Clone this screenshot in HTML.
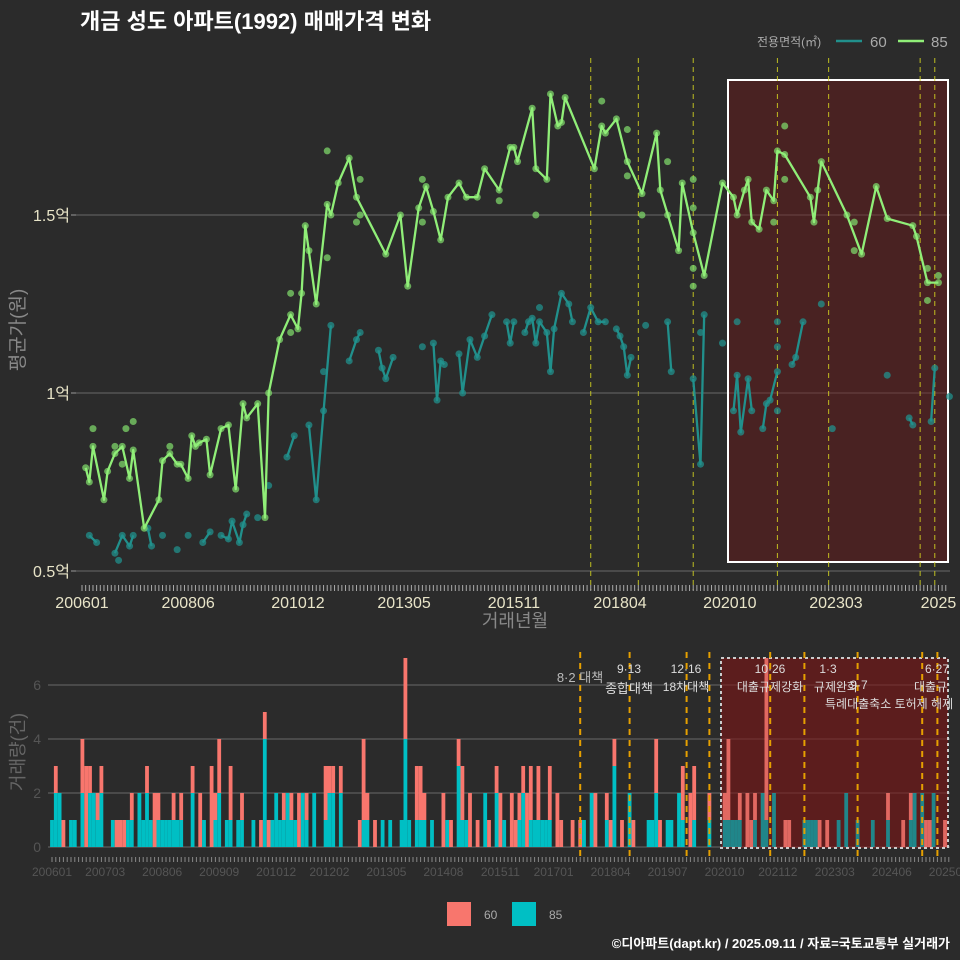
<!DOCTYPE html>
<html><head><meta charset="utf-8">
<style>
html,body{margin:0;padding:0;background:#2b2b2b;}
svg{display:block;font-family:"Liberation Sans","Noto Sans CJK KR",sans-serif;}
</style></head>
<body>
<svg id="chart" width="960" height="960" viewBox="0 0 960 960" xmlns="http://www.w3.org/2000/svg">
<rect x="0" y="0" width="960" height="960" fill="#2b2b2b"/>
<text x="80" y="29" font-size="22" font-weight="bold" fill="#ffffff">개금 성도 아파트(1992) 매매가격 변화</text>
<g>
<text x="757" y="46" font-size="12" fill="#aaaaaa">전용면적(㎡)</text>
<line x1="836" y1="41" x2="862" y2="41" stroke="#21908c" stroke-width="2.5"/>
<text x="870" y="47" font-size="15" fill="#aaaaaa">60</text>
<line x1="898" y1="41" x2="924" y2="41" stroke="#90ee78" stroke-width="2.5"/>
<text x="931" y="47" font-size="15" fill="#aaaaaa">85</text>
</g>
<text transform="translate(24,330) rotate(-90)" text-anchor="middle" font-size="19" fill="#888888">평균가(원)</text>
<text x="515" y="627" text-anchor="middle" font-size="18" fill="#888888">거래년월</text>
<text transform="translate(24,752) rotate(-90)" text-anchor="middle" font-size="18" fill="#666666">거래량(건)</text>
<g id="topPanel"></g>
<g id="botPanel"></g>
<g>
<text x="580" y="682" text-anchor="middle" font-size="13" fill="#bbbbbb">8·2 대책</text>
<text x="629" y="673" text-anchor="middle" font-size="12" fill="#dddddd">9·13</text>
<text x="629" y="693" text-anchor="middle" font-size="13" fill="#dddddd">종합대책</text>
<text x="686" y="673" text-anchor="middle" font-size="12" fill="#dddddd">12·16</text>
<text x="686" y="691" text-anchor="middle" font-size="12" fill="#dddddd">18차대책</text>
<text x="770" y="673" text-anchor="middle" font-size="12" fill="#dddddd">10·26</text>
<text x="770" y="691" text-anchor="middle" font-size="12" fill="#dddddd">대출규제강화</text>
<text x="828" y="673" text-anchor="middle" font-size="12" fill="#dddddd">1·3</text>
<text x="836" y="691" text-anchor="middle" font-size="12" fill="#dddddd">규제완화</text>
<text x="859" y="689" text-anchor="middle" font-size="12" fill="#dddddd">9·7</text>
<text x="825" y="708" font-size="12" fill="#dddddd">특례대출축소 토허제 해제</text>
<text x="937" y="673" text-anchor="middle" font-size="12" fill="#dddddd">6·27</text>
<text x="914" y="691" font-size="12" fill="#dddddd">대출규</text>
</g>
<g>
<rect x="447" y="902" width="24" height="24" fill="#f8766d"/>
<text x="484" y="919" font-size="12" fill="#aaaaaa">60</text>
<rect x="512" y="902" width="24" height="24" fill="#00bfc4"/>
<text x="549" y="919" font-size="12" fill="#aaaaaa">85</text>
</g>
<text x="950" y="948" text-anchor="end" font-size="13" font-weight="bold" fill="#ffffff">©디아파트(dapt.kr) / 2025.09.11 / 자료=국토교통부 실거래가</text>
</svg>
<script>
// ---- price chart data (month index from 2006-01, price in 억) ----
const months85 = [1,2,3,6,7,9,11,13,14,17,21,22,24,26,27,29,30,31,32,34,35,38,40,42,44,45,48,50,51,54,57,59,60,61,64,67,68,70,73,75,83,87,89,92,94,96,98,100,103,105,108,110,114,117,118,119,123,124,127,128,130,131,132,140,142,143,146,149,153,157,158,163,164,167,170,175,178,179,181,182,183,185,187,189,190,192,199,200,201,202,209,213,217,220,227,228,231,234];
const price85 = [0.79,0.75,0.85,0.70,0.78,0.83,0.85,0.76,0.84,0.62,0.70,0.81,0.83,0.80,0.80,0.76,0.88,0.85,0.86,0.87,0.77,0.90,0.91,0.73,0.97,0.93,0.97,0.65,1.00,1.15,1.22,1.18,1.28,1.47,1.25,1.53,1.50,1.59,1.66,1.55,1.39,1.50,1.30,1.52,1.58,1.51,1.43,1.55,1.59,1.55,1.55,1.63,1.57,1.69,1.69,1.65,1.80,1.63,1.60,1.84,1.75,1.76,1.83,1.63,1.75,1.73,1.77,1.65,1.56,1.73,1.57,1.40,1.59,1.45,1.33,1.59,1.55,1.50,1.57,1.60,1.48,1.46,1.57,1.54,1.68,1.67,1.55,1.48,1.57,1.65,1.50,1.39,1.58,1.49,1.47,1.44,1.31,1.31];
const extraMonths85 = [3,12,14,9,11,24,57,57,67,67,76,75,76,93,93,114,62,142,124,149,149,153,160,160,167,167,167,167,192,192,189,211,211,231,231,234];
const extraPrice85 = [0.90,0.90,0.92,0.85,0.80,0.85,1.28,1.17,1.68,1.38,1.60,1.48,1.50,1.60,1.48,1.54,1.40,1.82,1.50,1.74,1.61,1.50,1.65,1.50,1.60,1.52,1.35,1.30,1.75,1.60,1.48,1.40,1.48,1.26,1.35,1.33];
const months60 = [2,4,9,11,13,14,18,19,22,26,29,33,35,38,40,41,43,44,45,48,51,56,58,62,64,66,68,73,75,76,81,82,83,85,93,96,97,98,99,103,104,106,108,110,112,116,117,118,121,122,123,124,125,127,128,129,131,133,134,137,139,141,143,146,147,148,149,150,154,160,161,167,169,170,175,178,179,180,182,183,186,187,188,190,194,195,197,202,205,220,226,227,232,233,237];
const price60 = [0.60,0.58,0.55,0.60,0.57,0.60,0.62,0.57,0.60,0.56,0.60,0.58,0.61,0.60,0.59,0.64,0.58,0.63,0.66,0.65,0.74,0.82,0.88,0.91,0.70,0.95,1.19,1.09,1.15,1.17,1.12,1.07,1.04,1.10,1.13,1.14,0.98,1.09,1.08,1.11,1.00,1.15,1.10,1.16,1.22,1.20,1.14,1.20,1.17,1.20,1.21,1.14,1.20,1.17,1.06,1.18,1.28,1.25,1.20,1.17,1.24,1.20,1.20,1.18,1.16,1.13,1.05,1.10,1.19,1.20,1.06,1.04,0.80,1.22,1.14,0.95,1.05,0.89,1.04,0.95,0.90,0.97,0.98,1.06,1.08,1.10,1.20,1.25,0.90,1.05,0.93,0.91,0.92,1.07,0.99];
const extraMonths60 = [10,190,190,190,179,125,169,66];
const extraPrice60 = [0.53,0.95,1.13,1.20,1.20,1.24,1.17,1.06];
const priceTicks = [0.5,1,1.5];
const priceTickLabels = ["0.5억","1억","1.5억"];
const xTickMonthsTop = [0,29,59,88,118,147,177,206,234];
const xTickLabelsTop = ["200601","200806","201012","201305","201511","201804","202010","202303","2025"];
const policyMonthsTop = [139,152,167,190,204,229,233];
// ---- volume chart data ----
const volMonths = [0,1,2,3,5,6,8,9,10,11,12,13,16,17,18,19,20,21,23,24,25,26,27,28,29,30,31,32,33,34,37,39,40,42,43,44,46,47,49,50,53,55,56,57,58,59,60,61,62,63,64,65,66,67,69,72,73,74,76,81,82,83,85,87,89,92,93,94,96,97,98,100,103,104,105,107,108,109,110,112,114,115,117,118,119,121,122,123,124,125,126,127,128,129,130,131,133,134,137,139,140,142,143,146,147,148,150,152,153,157,158,159,160,162,163,165,166,168,169,173,177,178,179,180,181,183,184,185,187,188,190,193,194,198,199,200,201,202,204,207,209,212,216,220,224,226,227,229,230,231,232,235];
const vol85 = [1,2,2,0,1,1,2,0,2,2,1,2,1,0,0,0,1,1,2,1,2,1,0,1,1,1,1,1,1,1,2,0,1,0,1,2,1,1,1,1,1,0,4,0,1,2,1,1,2,1,1,0,2,1,2,1,2,2,2,0,1,1,0,1,1,1,4,1,1,1,1,1,0,1,0,3,1,1,0,0,2,0,2,0,1,0,0,1,2,0,1,1,1,1,1,1,0,0,0,0,1,2,0,1,0,3,0,2,0,1,1,2,0,1,1,2,1,0,1,1,1,1,1,1,1,0,0,1,2,1,2,0,0,1,1,1,1,0,0,1,2,1,1,1,0,1,2,2,0,0,2,0];
const vol60 = [0,1,0,1,0,0,2,3,1,0,1,1,0,1,1,1,0,1,0,0,1,0,2,1,0,0,0,1,0,1,1,2,0,3,1,2,0,2,0,1,0,1,1,1,0,0,0,1,0,1,0,2,0,1,0,2,1,1,1,1,3,1,1,0,0,0,3,0,2,2,1,0,2,0,1,1,2,0,2,1,0,1,1,2,0,2,1,1,1,2,2,0,2,0,0,2,2,1,1,1,0,0,2,1,1,1,1,0,1,0,0,2,1,0,0,0,2,2,2,1,1,3,0,0,1,2,1,1,0,6,0,1,1,0,0,0,0,1,1,0,0,0,0,1,1,1,0,0,1,1,0,1];
const volTicks = [0,2,4,6];
const xTickMonthsBot = [0,14,29,44,59,73,88,103,118,132,147,162,177,191,206,221,236];
const xTickLabelsBot = ["200601","200703","200806","200909","201012","201202","201305","201408","201511","201701","201804","201907","202010","202112","202303","202406","202509"];
const policyMonthsBot = [139,152,167,173,189,198,212,229,233];

const NS = "http://www.w3.org/2000/svg";
function mk(parent, tag, attrs, text){
  const e = document.createElementNS(NS, tag);
  for (const k in attrs) e.setAttribute(k, attrs[k]);
  if (text !== undefined) e.textContent = text;
  parent.appendChild(e);
  return e;
}
const xTop = m => 82 + m * 3.66;
const yTop = v => 393 - (v - 1) * 356;
const xBot = m => 52 + m * 3.8;
const yBot = c => 847 - c * 27;

const topG = document.getElementById('topPanel');
const botG = document.getElementById('botPanel');

// ---- TOP PANEL ----
priceTicks.forEach((t, i) => {
  const g = mk(topG, 'line', {x1: 76, x2: 950, y1: yTop(t), y2: yTop(t), stroke: '#6a6a6a', 'stroke-width': 1});
  
  
  const tk = mk(topG, 'line', {x1: 71, x2: 76, y1: yTop(t), y2: yTop(t), stroke: '#999', 'stroke-width': 1});
  
  
  const lb = mk(topG, 'text', {x: 70, y: yTop(t) + 6, 'text-anchor': 'end', 'font-size': 16, fill: '#e8e4c8'}, priceTickLabels[i]);
  
  
});
const hb = mk(topG, 'rect', {x: 728, y: 80, width: 220, height: 482, fill: 'rgba(110,25,25,0.45)', stroke: '#ffffff', 'stroke-width': 2});


policyMonthsTop.forEach(m => {
  const l = mk(topG, 'line', {x1: xTop(m), x2: xTop(m), y1: 58, y2: 590, stroke: '#d8d820', 'stroke-width': 1, 'stroke-dasharray': '5,4', opacity: 0.85});
  
  
});
for (let m = 0; m <= 236; m++) {
  const t = mk(topG, 'line', {x1: xTop(m), x2: xTop(m), y1: 585, y2: 591, stroke: '#aaa', 'stroke-width': 1});
  
  
}
xTickMonthsTop.forEach((m, i) => {
  const t = mk(topG, 'text', {x: xTop(m), y: 608, 'text-anchor': 'middle', 'font-size': 16, fill: '#e8e4c8'}, xTickLabelsTop[i]);
  
  
});
function drawLine(ms, vs, color, name, maxGap){
  let d = '';
  const n = Math.min(ms.length, vs.length);
  for (let i = 0; i < n; i++) {
    const cmd = (i === 0 || ms[i] - ms[i-1] > maxGap) ? 'M' : 'L';
    d += cmd + xTop(ms[i]).toFixed(1) + ',' + yTop(vs[i]).toFixed(1) + ' ';
  }
  const p = mk(topG, 'path', {d: d, fill: 'none', stroke: color, 'stroke-width': 2.3, 'stroke-linejoin': 'round'});
  
  
}
function drawPts(ms, vs, color, name){
  const n = Math.min(ms.length, vs.length);
  for (let i = 0; i < n; i++) {
    const c = mk(topG, 'circle', {cx: xTop(ms[i]), cy: yTop(vs[i]), r: 3.5, fill: color, opacity: 0.75});
    
    
  }
}
drawPts(months60, price60, '#21908c', 'point-60');
drawPts(extraMonths60, extraPrice60, '#21908c', 'point-60');
drawLine(months60, price60, '#21908c', 'line-60', 2);
drawPts(months85, price85, '#7ed66a', 'point-85');
drawPts(extraMonths85, extraPrice85, '#7ed66a', 'point-85');
drawLine(months85, price85, '#90ee78', 'line-85', 100);

// ---- BOTTOM PANEL ----
volTicks.forEach(t => {
  const g = mk(botG, 'line', {x1: 48, x2: 950, y1: yBot(t), y2: yBot(t), stroke: '#6a6a6a', 'stroke-width': 1});
  
  
  const lb = mk(botG, 'text', {x: 41, y: yBot(t) + 5, 'text-anchor': 'end', 'font-size': 14, fill: '#555555'}, String(t));
  
  
});
const bb = mk(botG, 'rect', {x: 721, y: 658, width: 227, height: 190, fill: 'rgba(125,20,20,0.6)', stroke: '#cccccc', 'stroke-width': 2, 'stroke-dasharray': '3,3'});


for (let i = 0; i < volMonths.length; i++) {
  const x = xBot(volMonths[i]) - 1.9;
  const t85 = vol85[i] || 0;
  const t60 = vol60[i] || 0;
  if (t85 > 0) {
    const r = mk(botG, 'rect', {x: x, y: yBot(t85), width: 3.8, height: t85 * 27, fill: '#00bfc4', opacity: volMonths[i] >= 176 ? 0.65 : 1});
    
    
  }
  if (t60 > 0) {
    const r = mk(botG, 'rect', {x: x, y: yBot(t85 + t60), width: 3.8, height: t60 * 27, fill: '#f8766d', opacity: volMonths[i] >= 176 ? 0.85 : 1});
    
    
  }
}
policyMonthsBot.forEach(m => {
  const l = mk(botG, 'line', {x1: xBot(m), x2: xBot(m), y1: 652, y2: 858, stroke: '#e6a000', 'stroke-width': 2, 'stroke-dasharray': '6,5'});
  
  
});
for (let m = 0; m <= 236; m++) {
  const t = mk(botG, 'line', {x1: xBot(m), x2: xBot(m), y1: 857, y2: 862, stroke: '#888', 'stroke-width': 1});
  
  
}
xTickMonthsBot.forEach((m, i) => {
  const t = mk(botG, 'text', {x: xBot(m), y: 876, 'text-anchor': 'middle', 'font-size': 12, fill: '#555555'}, xTickLabelsBot[i]);
  
  
});
</script>
</body></html>
